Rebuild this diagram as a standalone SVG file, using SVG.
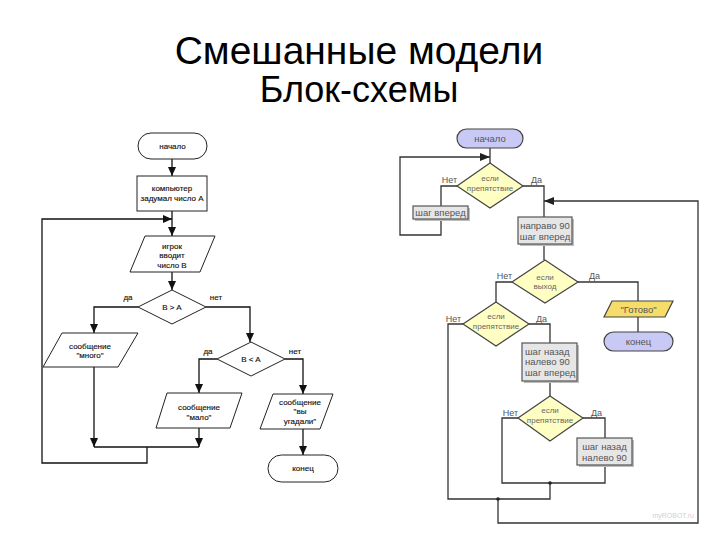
<svg xmlns="http://www.w3.org/2000/svg" width="720" height="540" viewBox="0 0 720 540">
<defs>
<marker id="ah" markerWidth="9" markerHeight="8" refX="9" refY="4" orient="auto" markerUnits="userSpaceOnUse">
<path d="M0,0 L9,4 L0,8 Z" fill="#111"/>
</marker>
<marker id="ah2" markerWidth="10" markerHeight="8" refX="10" refY="4" orient="auto" markerUnits="userSpaceOnUse">
<path d="M0,0 L10,4 L0,8 Z" fill="#222"/>
</marker>
<style>
.title{font-family:"Liberation Sans",Arial,sans-serif;fill:#000;text-anchor:middle}
.lt{font-family:"Liberation Sans",Arial,sans-serif;font-size:8px;fill:#111;stroke:#111;stroke-width:0.15;text-anchor:middle}
.ls{fill:#fff;stroke:#222;stroke-width:1}
.lc{fill:none;stroke:#111;stroke-width:1.3}
.rt{font-family:"Liberation Sans",Arial,sans-serif;font-size:9.5px;fill:#555;text-anchor:middle}
.rs{font-family:"Liberation Sans",Arial,sans-serif;font-size:9.5px;fill:#555;text-anchor:start}
.rd{font-family:"Liberation Sans",Arial,sans-serif;font-size:8px;fill:#666;text-anchor:middle}
.rl{font-family:"Liberation Sans",Arial,sans-serif;font-size:9px;fill:#555}
.re{font-family:"Liberation Sans",Arial,sans-serif;font-size:9px;fill:#555;text-anchor:end}
.term{fill:#c9c9f5;stroke:#444;stroke-width:1.2}
.dia{fill:#ffffc4;stroke:#444;stroke-width:1.2}
.box{fill:#e6e6e6;stroke:#555;stroke-width:1.2}
.sh{fill:#bdbdbd}
.rc{fill:none;stroke:#333;stroke-width:1.3}
</style>
</defs>
<rect width="720" height="540" fill="#fff"/>
<text class="title" x="359" y="64" font-size="39">Смешанные модели</text>
<text class="title" x="359" y="102" font-size="36">Блок-схемы</text>

<!-- Left flowchart -->
<g id="connectors-left">
<line class="lc" x1="172" y1="159" x2="172" y2="176" marker-end="url(#ah)"/>
<line class="lc" x1="172" y1="211" x2="172" y2="236" marker-end="url(#ah)"/>
<polyline class="lc" points="147,447 147,463 42,463 42,219 172,219" marker-end="url(#ah)"/>
<line class="lc" x1="172" y1="272" x2="172" y2="290" marker-end="url(#ah)"/>
<polyline class="lc" points="138,307 94,307 94,333" marker-end="url(#ah)"/>
<polyline class="lc" points="206,307 250,307 250,342" marker-end="url(#ah)"/>
<line class="lc" x1="94" y1="367" x2="94" y2="447" marker-end="url(#ah)"/>
<line class="lc" x1="94" y1="447" x2="199" y2="447"/>
<polyline class="lc" points="217,359 199,359 199,393" marker-end="url(#ah)"/>
<line class="lc" x1="199" y1="428" x2="199" y2="447" marker-end="url(#ah)"/>
<polyline class="lc" points="285,359 303,359 303,394" marker-end="url(#ah)"/>
<line class="lc" x1="303" y1="429" x2="303" y2="455" marker-end="url(#ah)"/>
<text class="lt" x="128" y="300">да</text>
<text class="lt" x="216" y="300">нет</text>
<text class="lt" x="208" y="354">да</text>
<text class="lt" x="295" y="354">нет</text>
</g>
<g id="l-start">
<rect class="ls" x="138" y="133" width="69" height="26" rx="13"/>
<text class="lt" x="172.5" y="149">начало</text>
</g>
<g id="l-think">
<rect class="ls" x="137" y="176" width="70" height="35" stroke="#777"/>
<text class="lt" x="172" y="191">компьютер</text>
<text class="lt" x="172" y="201">задумал число А</text>
</g>
<g id="l-input">
<polygon class="ls" points="145,236 215,236 200,272 130,272"/>
<text class="lt" x="172" y="249">игрок</text>
<text class="lt" x="172" y="258">вводит</text>
<text class="lt" x="172" y="268">число В</text>
</g>
<g id="l-cmp1">
<polygon class="ls" points="172,290 206,307 172,324 138,307"/>
<text class="lt" x="172" y="310">B &gt; A</text>
</g>
<g id="l-many">
<polygon class="ls" points="62,333 138,333 118,367 43,367"/>
<text class="lt" x="90" y="349">сообщение</text>
<text class="lt" x="90" y="358">"много"</text>
</g>
<g id="l-cmp2">
<polygon class="ls" points="251,342 285,359 251,376 217,359"/>
<text class="lt" x="251" y="362">B &lt; A</text>
</g>
<g id="l-few">
<polygon class="ls" points="167,393 242,393 230,428 156,428"/>
<text class="lt" x="199" y="410">сообщение</text>
<text class="lt" x="199" y="420">"мало"</text>
</g>
<g id="l-guess">
<polygon class="ls" points="273,394 333,394 320,429 260,429"/>
<text class="lt" x="300" y="405">сообщение</text>
<text class="lt" x="300" y="414">"вы</text>
<text class="lt" x="300" y="424">угадали"</text>
</g>
<g id="l-end">
<rect class="ls" x="268" y="455" width="70" height="27" rx="13.5"/>
<text class="lt" x="303" y="471">конец</text>
</g>

<!-- Right flowchart -->
<g id="connectors-right">
<line class="rc" x1="490" y1="148" x2="490" y2="163"/>
<polyline class="rc" points="441,219 441,235 400,235 400,157 490,157" marker-end="url(#ah2)"/>
<polyline class="rc" points="457,186 441,186 441,206"/>
<polyline class="rc" points="523,186 544,186 544,217"/>
<polyline class="rc" points="498,499 498,523 698,523 698,201 544,201" marker-end="url(#ah2)"/>
<line class="rc" x1="544" y1="244" x2="544" y2="260"/>
<polyline class="rc" points="578,282 638,282 638,301"/>
<line class="rc" x1="638" y1="317" x2="638" y2="332"/>
<polyline class="rc" points="512,282 496,282 496,302"/>
<polyline class="rc" points="463,324 448,324 448,499 550,499 550,483"/>
<polyline class="rc" points="529,324 550,324 550,343"/>
<line class="rc" x1="550" y1="381" x2="550" y2="396"/>
<polyline class="rc" points="518,418 502,418 502,483 605,483 605,465"/>
<polyline class="rc" points="583,418 605,418 605,438"/>
<circle cx="550" cy="483" r="1.8" fill="#222"/>
<circle cx="498" cy="499" r="1.8" fill="#222"/>
<text class="re" x="457" y="183">Нет</text>
<text class="rl" x="531" y="183">Да</text>
<text class="re" x="512" y="279">Нет</text>
<text class="rl" x="589" y="279">Да</text>
<text class="re" x="461" y="322">Нет</text>
<text class="rl" x="536" y="322">Да</text>
<text class="re" x="518" y="416">Нет</text>
<text class="rl" x="591" y="416">Да</text>
</g>
<g id="r-start">
<rect class="term" x="457" y="129" width="66" height="19" rx="9.5"/>
<text class="rt" x="490" y="142">начало</text>
</g>
<g id="r-if1">
<polygon class="dia" points="490,163 523,186 490,208 457,186"/>
<text class="rd" x="490" y="181">если</text>
<text class="rd" x="490" y="190.5">препятствие</text>
</g>
<g id="r-fwd">
<rect class="sh" x="415" y="208" width="55" height="13"/>
<rect class="box" x="413" y="206" width="55" height="13"/>
<text class="rt" x="440.5" y="216">шаг вперед</text>
</g>
<g id="r-right">
<rect class="sh" x="520" y="219" width="54" height="27"/>
<rect class="box" x="518" y="217" width="54" height="27"/>
<text class="rt" x="545" y="229">направо 90</text>
<text class="rt" x="545" y="240">шаг вперед</text>
</g>
<g id="r-exit">
<polygon class="dia" points="545,260 578,282 545,303 512,282"/>
<text class="rd" x="545" y="279.5">если</text>
<text class="rd" x="545" y="289">выход</text>
</g>
<g id="r-done">
<polygon fill="#f6dc6a" stroke="#444" stroke-width="1.2" points="612,301 673,301 665,317 604,317"/>
<text class="rt" x="638.5" y="312.5">"Готово"</text>
</g>
<g id="r-end">
<rect class="term" x="604" y="332" width="69" height="19" rx="9.5"/>
<text class="rt" x="638.5" y="345">конец</text>
</g>
<g id="r-if2">
<polygon class="dia" points="496,302 529,324 496,346 463,324"/>
<text class="rd" x="496" y="319">если</text>
<text class="rd" x="496" y="328.5">препятствие</text>
</g>
<g id="r-back1">
<rect class="sh" x="524" y="345" width="55" height="38"/>
<rect class="box" x="522" y="343" width="55" height="38"/>
<text class="rs" x="525" y="354.5">шаг назад</text>
<text class="rs" x="525" y="365">налево 90</text>
<text class="rs" x="525" y="376">шаг вперед</text>
</g>
<g id="r-if3">
<polygon class="dia" points="550,396 583,418 550,441 518,418"/>
<text class="rd" x="550" y="413">если</text>
<text class="rd" x="550" y="422.5">препятствие</text>
</g>
<g id="r-back2">
<rect class="sh" x="579" y="440" width="55" height="27"/>
<rect class="box" x="577" y="438" width="55" height="27"/>
<text class="rt" x="604.5" y="450">шаг назад</text>
<text class="rt" x="604.5" y="461">налево 90</text>
</g>
<text x="694" y="518" text-anchor="end" font-family="Liberation Sans, Arial, sans-serif" font-size="7px" fill="#d0d0d0">myROBOT.ru</text>
</svg>
